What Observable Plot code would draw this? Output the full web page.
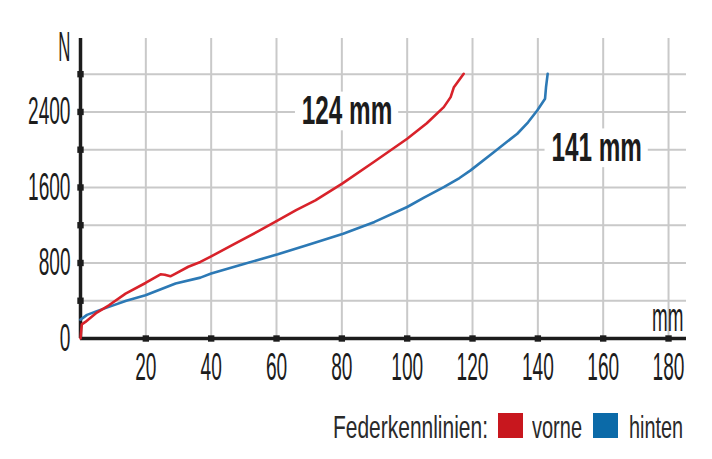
<!DOCTYPE html>
<html><head><meta charset="utf-8">
<script src="https://cdn.jsdelivr.net/npm/d3@7"></script>
<script src="https://cdn.jsdelivr.net/npm/@observablehq/plot@0.6"></script>
<style>
body{margin:0;background:#fff;}
#legend{position:relative;width:712px;height:59px;font-family:"Liberation Sans",Arial,sans-serif;color:#2a2a2a;}
#legend .t{position:absolute;font-size:32px;line-height:1;white-space:nowrap;transform-origin:left center;}
#legend .sw{position:absolute;width:25px;height:25px;}
</style></head><body>
<div id="chart"></div>
<div id="legend"></div>
<script>
// Federweg (mm) und Kraft (N)
const vorneX = [0, 0.4, 1.5, 5, 8.7, 13.8, 19.9, 24.5, 25.8, 27.5, 29.1, 33, 36.7, 40, 47, 54.6, 60.4, 66, 71.9, 80.1, 90, 100, 106, 111.2, 113.3, 114.3, 115.8, 117.3];
const vorneN = [0, 150, 176, 275, 352, 476, 588, 680, 676, 659, 688, 760, 811, 870, 1000, 1140, 1252, 1360, 1464, 1640, 1875, 2116, 2280, 2451, 2557, 2662, 2733, 2804];
const hintenX = [0, 2, 5, 8.7, 14, 19.9, 29.1, 36.7, 40, 50, 60.4, 70, 80.4, 90, 100, 105, 111.2, 116, 119.4, 126.5, 133.7, 137, 139.8, 142.2, 142.5, 143];
const hintenN = [200, 250, 290, 335, 400, 458, 582, 645, 688, 790, 892, 995, 1110, 1235, 1393, 1490, 1604, 1700, 1781, 1974, 2169, 2290, 2416, 2540, 2662, 2804];
const xTicks = [20, 40, 60, 80, 100, 120, 140, 160, 180];
const yTicks = [400, 800, 1200, 1600, 2000, 2400, 2800];
const yLabels = [0, 800, 1600, 2400];
const seriesNames = ["vorne", "hinten"];
const lineColors = ["#d8222a", "#2c79b5"];
const swatchColors = ["#c8171e", "#0b6aa8"];
const annotations = [{x: 81.6, y: 2405, text: "124 mm"}, {x: 158, y: 2015, text: "141 mm"}];
const legendTitle = "Federkennlinien:";

const vorne = vorneX.map((x, i) => ({x, n: vorneN[i], s: seriesNames[0]}));
const hinten = hintenX.map((x, i) => ({x, n: hintenN[i], s: seriesNames[1]}));

const ink = "#1c1c1c";
const grid = "#c9c9c9";

const svg = Plot.plot({
  width: 712,
  height: 400,
  marginLeft: 80,
  marginRight: 26,
  marginTop: 38,
  marginBottom: 62,
  style: {fontFamily: "'Liberation Sans', Arial, sans-serif", background: "#fff", overflow: "visible"},
  x: {domain: [0, 185.5], axis: null},
  y: {domain: [0, 3178], axis: null},
  marks: [
    Plot.ruleX(xTicks, {stroke: grid, strokeWidth: 2}),
    Plot.ruleY(yTicks, {stroke: grid, strokeWidth: 2}),
    Plot.rect(annotations, {x1: d => d.x - 15.8, x2: d => d.x + 15.8, y1: d => d.y - 205, y2: d => d.y + 205, fill: "#fff"}),
    Plot.ruleX([0], {stroke: ink, strokeWidth: 3.5}),
    Plot.ruleY([0], {stroke: ink, strokeWidth: 3.5}),
    Plot.dot(xTicks, {x: d => d, y: 0, symbol: "square", r: 3.6, fill: ink, stroke: null}),
    Plot.dot(yTicks, {x: 0, y: d => d, symbol: "square", r: 3.6, fill: ink, stroke: null}),
    Plot.line(hinten, {x: "x", y: "n", stroke: lineColors[1], strokeWidth: 2.6}),
    Plot.line(vorne, {x: "x", y: "n", stroke: lineColors[0], strokeWidth: 2.6}),
    Plot.text(xTicks, {x: d => d, y: 0, text: d => String(d), dy: 14, lineAnchor: "top", textAnchor: "middle", fontSize: 39, fill: ink, ariaDescription: "xlab"}),
    Plot.text(yLabels, {x: 0, y: d => d, text: d => String(d), dx: -10, lineAnchor: "middle", textAnchor: "end", fontSize: 39, fill: ink, ariaDescription: "ylab"}),
    Plot.text(["N"], {frameAnchor: "top-left", dx: -10, dy: 9, lineAnchor: "middle", textAnchor: "end", fontSize: 42, fill: ink, ariaDescription: "ntitle"}),
    Plot.text(["mm"], {frameAnchor: "bottom-right", dx: -3, dy: -8, lineAnchor: "bottom", textAnchor: "end", fontSize: 41, fill: ink, ariaDescription: "mmtitle"}),
    Plot.text(annotations, {x: "x", y: "y", text: "text", textAnchor: "middle", lineAnchor: "middle", fontSize: 40.5, fontWeight: "bold", fill: ink, ariaDescription: "annot"})
  ]
});
document.getElementById("chart").appendChild(svg);

// horizontal condensing of text around its anchor point (wraps each text in a scaled group)
function condense(key, s, anchor) {
  const ns = "http://www.w3.org/2000/svg";
  svg.querySelectorAll(`g[aria-description="${key}"] text`).forEach(t => {
    const b = t.getBBox();
    const lx = anchor === "end" ? b.x + b.width : anchor === "middle" ? b.x + b.width / 2 : b.x;
    const ly = b.y + b.height / 2;
    let ax = lx;
    const tl = t.transform && t.transform.baseVal;
    if (tl && tl.numberOfItems) {
      const m = tl.consolidate().matrix;
      ax = m.a * lx + m.c * ly + m.e;
    }
    const g = document.createElementNS(ns, "g");
    g.setAttribute("transform", `translate(${ax},0) scale(${s},1) translate(${-ax},0)`);
    t.parentNode.insertBefore(g, t);
    g.appendChild(t);
  });
}
condense("xlab", 0.49, "middle");
condense("ylab", 0.49, "end");
condense("ntitle", 0.40, "end");
condense("mmtitle", 0.46, "end");
condense("annot", 0.60, "middle");

// Legende
const legend = document.getElementById("legend");
function addText(str, left, scale) {
  const el = document.createElement("span");
  el.className = "t";
  el.textContent = str;
  el.style.left = left + "px";
  el.style.top = "11px";
  el.style.transform = `scaleX(${scale})`;
  legend.appendChild(el);
}
function addSwatch(color, left) {
  const el = document.createElement("span");
  el.className = "sw";
  el.style.left = left + "px";
  el.style.top = "13px";
  el.style.background = color;
  legend.appendChild(el);
}
addText(legendTitle, 333, 0.655);
addSwatch(swatchColors[0], 498);
addText(seriesNames[0], 532, 0.625);
addSwatch(swatchColors[1], 593);
addText(seriesNames[1], 629, 0.62);
</script>
</body></html>
